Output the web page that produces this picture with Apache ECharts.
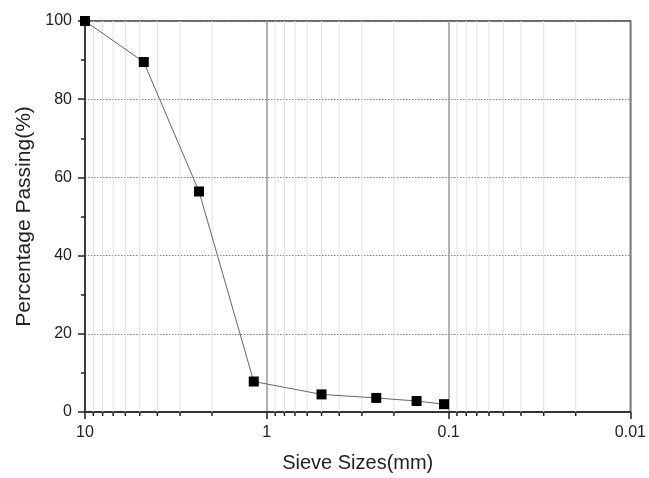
<!DOCTYPE html>
<html>
<head>
<meta charset="utf-8">
<script src="https://cdn.jsdelivr.net/npm/echarts@6/dist/echarts.min.js"></script>
<style>
  html, body { margin: 0; padding: 0; background: #fff; }
  #chart { width: 649px; height: 478px; }
</style>
</head>
<body>
<div id="chart"></div>
<script>
// Sieve analysis: grain size (mm) vs. cumulative percentage passing
const sieveSizes = [10, 4.75, 2.36, 1.18, 0.5, 0.25, 0.15, 0.106];
const percentPassing = [100, 89.5, 56.4, 7.8, 4.5, 3.6, 2.8, 2.0];

// Intermediate log-decade positions (2..9 of each decade) for minor grid and ticks
const minorSizes = [
  9, 8, 7, 6, 5, 4, 3, 2,
  0.9, 0.8, 0.7, 0.6, 0.5, 0.4, 0.3, 0.2,
  0.09, 0.08, 0.07, 0.06, 0.05, 0.04, 0.03, 0.02
];

const xTitle = 'Sieve Sizes(mm)';
const yTitle = 'Percentage Passing(%)';

const FONT = '"Liberation Sans", Arial, sans-serif';
const INK = '#222';

const chart = echarts.init(document.getElementById('chart'), null, { renderer: 'canvas' });

chart.setOption({
  animation: false,
  backgroundColor: '#fff',
  grid: {
    left: 85, right: 13, top: 21, bottom: 61,
    show: true, borderColor: '#333', borderWidth: 1.5, backgroundColor: 'transparent'
  },
  xAxis: {
    type: 'log',
    logBase: 10,
    min: 0.01,
    max: 10,
    interval: 1,
    inverse: true,
    name: xTitle,
    nameLocation: 'middle',
    nameGap: 41,
    nameTextStyle: { fontFamily: FONT, fontSize: 20, color: INK },
    axisLine: { lineStyle: { color: INK, width: 1.5 } },
    axisTick: { show: true, inside: false, length: 7, lineStyle: { color: INK, width: 1.5 } },
    axisLabel: {
      fontFamily: FONT, fontSize: 16, color: INK, margin: 13,
      formatter: v => String(+v.toPrecision(6))
    },
    splitLine: { show: true, lineStyle: { color: '#999', width: 1.5, type: 'solid' } }
  },
  yAxis: {
    type: 'value',
    min: 0,
    max: 100,
    interval: 20,
    name: yTitle,
    nameLocation: 'middle',
    nameGap: 48,
    nameTextStyle: { fontFamily: FONT, fontSize: 21, color: INK },
    axisLine: { show: true, lineStyle: { color: INK, width: 1.5 } },
    axisTick: { show: true, inside: false, length: 7, lineStyle: { color: INK, width: 1.5 } },
    minorTick: { show: true, splitNumber: 2, length: 4, lineStyle: { color: INK, width: 1.5 } },
    axisLabel: { fontFamily: FONT, fontSize: 16, color: INK, margin: 13 },
    splitLine: { show: true, lineStyle: { color: '#888', width: 1, type: [1.5, 1.5] } }
  },
  series: [
    {
      // minor vertical grid lines plus short outward ticks under the x axis
      type: 'custom',
      silent: true,
      z: 1,
      data: minorSizes.map(v => [v, 0]),
      renderItem: function (params, api) {
        const cs = params.coordSys;
        const x = api.coord([api.value(0), 0])[0];
        const bottom = cs.y + cs.height;
        return {
          type: 'group',
          children: [
            {
              type: 'line',
              shape: { x1: x, y1: cs.y, x2: x, y2: bottom },
              style: { stroke: '#e2e2e2', lineWidth: 1 }
            },
            {
              type: 'line',
              shape: { x1: x, y1: bottom, x2: x, y2: bottom + 4 },
              style: { stroke: INK, lineWidth: 1.5 }
            }
          ]
        };
      }
    },
    {
      type: 'line',
      z: 5,
      data: sieveSizes.map((s, i) => [s, percentPassing[i]]),
      symbol: 'rect',
      symbolSize: 10,
      itemStyle: { color: '#000' },
      lineStyle: { color: '#666', width: 1 },
      clip: true
    }
  ]
});
</script>
</body>
</html>
